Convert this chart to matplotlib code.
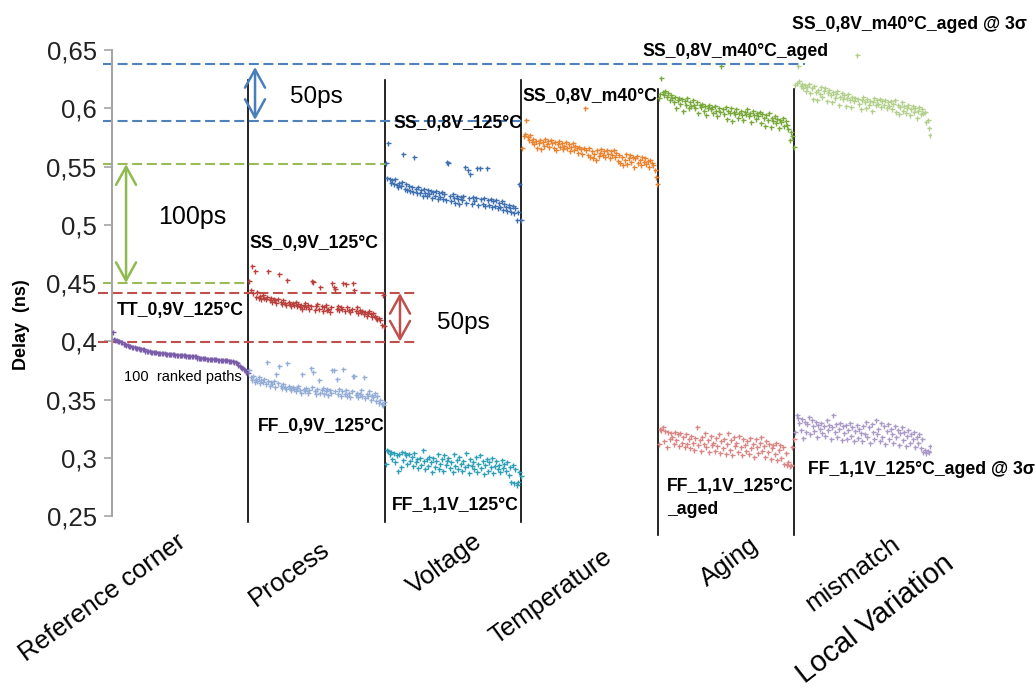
import numpy as np
import matplotlib
matplotlib.use('Agg')
import matplotlib.pyplot as plt
from matplotlib.ticker import FuncFormatter

plt.rcParams['font.family'] = ['Liberation Sans', 'DejaVu Sans']

# delay of the 100 ranked paths for each corner, in ps
ref_tt = [408, 402, 401, 401, 400, 400, 399, 399, 398, 398,
          397, 397, 396, 396, 395, 395, 395, 394, 394, 394,
          393, 393, 393, 393, 392, 392, 392, 392, 391, 391,
          391, 391, 391, 390, 390, 390, 390, 390, 390, 389,
          389, 389, 389, 389, 389, 389, 388, 388, 388, 388,
          388, 388, 388, 388, 387, 387, 387, 387, 387, 387,
          387, 387, 386, 386, 386, 386, 386, 386, 386, 385,
          385, 385, 385, 385, 385, 385, 385, 384, 384, 384,
          384, 384, 384, 384, 384, 383, 383, 383, 383, 382,
          382, 381, 380, 379, 378, 377, 376, 375, 374, 373]

proc_ss = [452, 444, 465, 441, 460, 438, 442, 437, 439, 436,
           440, 437, 436, 438, 460, 435, 437, 434, 436, 435,
           433, 436, 458, 434, 432, 435, 433, 431, 453, 434,
           432, 430, 433, 431, 434, 430, 432, 429, 431, 428,
           430, 433, 429, 431, 428, 430, 452, 451, 427, 430,
           432, 428, 447, 430, 426, 429, 431, 427, 428, 425,
           429, 450, 447, 445, 428, 430, 427, 429, 428, 450,
           426, 449, 429, 427, 425, 428, 450, 444, 426, 429,
           424, 427, 425, 426, 423, 425, 422, 424, 426, 423,
           421, 424, 422, 420, 419, 420, 418, 414, 440, 413]

proc_ff = [375, 369, 367, 370, 365, 368, 366, 369, 364, 367,
           365, 368, 363, 382, 366, 362, 365, 363, 366, 361,
           372, 364, 379, 362, 360, 363, 361, 359, 381, 362,
           360, 358, 361, 359, 357, 360, 362, 358, 356, 372,
           359, 357, 360, 356, 358, 377, 361, 374, 357, 355,
           359, 367, 356, 358, 360, 355, 357, 359, 354, 358,
           356, 375, 375, 357, 368, 355, 359, 353, 357, 376,
           355, 358, 353, 356, 352, 357, 370, 370, 354, 356,
           352, 355, 358, 353, 369, 351, 355, 353, 357, 350,
           354, 352, 356, 349, 353, 347, 350, 346, 345, 348]

volt_ss = [553, 540, 570, 539, 536, 538, 535, 539, 534, 532,
           536, 533, 537, 561, 531, 535, 530, 533, 529, 532,
           528, 558, 531, 527, 532, 527, 530, 525, 531, 527,
           525, 530, 526, 529, 523, 528, 525, 529, 522, 527,
           524, 528, 522, 526, 521, 554, 553, 525, 520, 526,
           523, 519, 525, 522, 518, 524, 521, 525, 550, 519,
           547, 523, 544, 518, 524, 520, 523, 549, 517, 549,
           522, 518, 523, 516, 549, 521, 517, 522, 515, 520,
           516, 521, 514, 519, 515, 520, 513, 518, 515, 512,
           517, 514, 511, 516, 510, 514, 504, 511, 535, 504]

volt_ff = [295, 307, 306, 303, 305, 299, 304, 296, 302, 289,
           303, 292, 305, 298, 304, 302, 295, 303, 297, 301,
           293, 304, 296, 299, 291, 300, 294, 307, 297, 290,
           299, 293, 301, 296, 288, 300, 292, 297, 303, 290,
           295, 299, 289, 302, 294, 297, 300, 291, 296, 288,
           303, 293, 298, 290, 301, 295, 289, 297, 292, 304,
           294, 287, 299, 293, 296, 290, 301, 288, 295, 302,
           291, 297, 286, 294, 299, 289, 296, 292, 300, 287,
           293, 297, 290, 294, 288, 298, 291, 295, 289, 296,
           285, 292, 279, 294, 278, 290, 277, 279, 288, 284]

temp_ss = [566, 576, 578, 590, 575, 573, 577, 571, 574, 569,
           572, 566, 570, 573, 565, 571, 568, 574, 569, 572,
           567, 573, 570, 566, 571, 564, 569, 572, 567, 570,
           565, 568, 571, 566, 569, 563, 567, 570, 564, 568,
           566, 562, 567, 565, 561, 566, 600, 564, 560, 566,
           558, 563, 557, 561, 556, 564, 559, 562, 565, 560,
           563, 558, 564, 561, 557, 563, 560, 564, 558, 562,
           555, 560, 553, 558, 551, 556, 561, 552, 557, 560,
           554, 558, 550, 557, 559, 553, 556, 551, 558, 554,
           557, 552, 555, 550, 556, 553, 551, 547, 541, 535]

age_ss = [609, 612, 626, 614, 611, 615, 610, 613, 607, 611,
          609, 605, 610, 600, 607, 609, 604, 608, 598, 606,
          603, 609, 600, 605, 602, 607, 603, 600, 605, 596,
          603, 601, 604, 598, 602, 594, 600, 603, 599, 601,
          596, 602, 598, 593, 600, 597, 636, 599, 595, 601,
          591, 598, 596, 600, 589, 597, 595, 599, 592, 596,
          598, 594, 590, 597, 595, 599, 593, 596, 588, 598,
          594, 591, 596, 593, 597, 587, 595, 592, 585, 594,
          590, 596, 584, 592, 589, 593, 587, 591, 583, 590,
          588, 592, 585, 589, 586, 582, 573, 580, 576, 567]

age_ff = [312, 325, 324, 326, 314, 323, 309, 322, 316, 321,
          318, 312, 322, 315, 320, 310, 321, 313, 318, 309,
          320, 312, 316, 308, 319, 313, 307, 317, 326, 311,
          315, 306, 318, 312, 321, 309, 315, 305, 319, 311,
          313, 306, 317, 310, 320, 304, 314, 308, 316, 303,
          312, 321, 307, 315, 302, 318, 310, 313, 305, 319,
          309, 302, 316, 311, 306, 314, 303, 317, 308, 312,
          301, 316, 309, 304, 313, 318, 306, 310, 301, 314,
          305, 312, 299, 308, 311, 303, 313, 298, 307, 311,
          300, 309, 295, 304, 294, 296, 293, 294, 309, 316]

mm_ss = [620, 622, 636, 623, 619, 621, 617, 620, 615, 618,
         621, 613, 617, 608, 619, 614, 607, 616, 612, 618,
         610, 615, 617, 606, 613, 616, 611, 605, 614, 609,
         612, 615, 603, 610, 613, 608, 611, 602, 609, 612,
         607, 601, 610, 606, 609, 646, 608, 604, 599, 607,
         610, 605, 600, 608, 603, 606, 598, 605, 609, 603,
         607, 604, 608, 601, 606, 603, 607, 600, 605, 602,
         606, 599, 604, 607, 597, 603, 595, 601, 605, 598,
         602, 596, 600, 603, 594, 599, 602, 597, 600, 592,
         598, 601, 595, 599, 596, 597, 588, 590, 583, 577]

mm_ff = [322, 337, 334, 330, 324, 333, 317, 331, 322, 329,
         335, 320, 332, 327, 323, 331, 318, 328, 325, 330,
         321, 327, 319, 332, 324, 328, 316, 326, 337, 322,
         329, 318, 325, 330, 315, 327, 321, 328, 316, 324,
         330, 319, 326, 314, 323, 328, 317, 325, 321, 314,
         327, 320, 331, 318, 326, 313, 329, 322, 316, 332,
         320, 325, 314, 330, 318, 327, 312, 323, 329, 316,
         325, 320, 313, 327, 318, 324, 311, 321, 326, 315,
         322, 310, 319, 324, 313, 320, 316, 322, 309, 318,
         313, 320, 308, 316, 305, 307, 304, 306, 305, 310]

categories = ['Reference corner', 'Process', 'Voltage', 'Temperature', 'Aging', 'mismatch']

# (group index, data, colour)
series = [
    (0, ref_tt, '#7a5ca8'),
    (1, proc_ss, '#b8403d'),
    (1, proc_ff, '#93add6'),
    (2, volt_ss, '#3e6fb0'),
    (2, volt_ff, '#2f9fb8'),
    (3, temp_ss, '#e9832f'),
    (4, age_ss, '#78a83a'),
    (4, age_ff, '#d98785'),
    (5, mm_ss, '#b3cf8c'),
    (5, mm_ff, '#ab9ac8'),
]

fig = plt.figure(figsize=(10.36, 6.88), dpi=100)
ax = fig.add_axes([0.1081, 0.25, 0.7905, 0.6773])

for g, vals, col in series:
    x = g * 100 + np.arange(len(vals)) + 0.5
    ax.plot(x, np.array(vals) / 1000.0, '+', color=col, ms=3.6, mew=1.0, zorder=3)

ax.set_xlim(0, 600)
ax.set_ylim(0.25, 0.65)

# only a grey y axis, no x axis
for s in ['top', 'right', 'bottom']:
    ax.spines[s].set_visible(False)
ax.spines['left'].set_color('#a6a6a6')
ax.spines['left'].set_linewidth(1.5)
ax.set_xticks([])
ax.set_yticks(np.arange(0.25, 0.651, 0.05))
ax.yaxis.set_major_formatter(FuncFormatter(lambda v, p: ('%g' % round(v, 2)).replace('.', ',')))
ax.tick_params(axis='y', length=6, width=1.2, color='#a6a6a6', labelsize=18.5, labelcolor='#222222', pad=5)

# separators between the groups
for g in range(1, 6):
    top, bot = (0.6242, 0.2449) if g < 4 else (0.6165, 0.2337)
    ax.plot([g * 100, g * 100], [bot, top], color='black', lw=1.2, clip_on=False, zorder=2)

# dashed reference levels
dash = (4.8, 2.2)
ax.plot([-6.6, 507.7], [0.6384, 0.6384], '--', color='#4f81bd', lw=1.5, dashes=dash, clip_on=False)
ax.plot([-6.6, 301], [0.589, 0.589], '--', color='#4f81bd', lw=1.5, dashes=dash, clip_on=False)
ax.plot([-6.6, 200.7], [0.552, 0.552], '--', color='#9bbb59', lw=1.5, dashes=dash, clip_on=False)
ax.plot([-6.6, 101], [0.45, 0.45], '--', color='#9bbb59', lw=1.5, dashes=dash, clip_on=False)
ax.plot([-10.3, 222], [0.4414, 0.4414], '--', color='#c0504d', lw=1.5, dashes=dash, clip_on=False)
ax.plot([-10.3, 222], [0.3997, 0.3997], '--', color='#c0504d', lw=1.5, dashes=dash, clip_on=False)

# double arrows
def darrow(x, y0, y1, col):
    ax.annotate('', xy=(x, y1), xytext=(x, y0),
                arrowprops=dict(arrowstyle='<->,head_length=1.3,head_width=0.72',
                                color=col, lw=1.8, shrinkA=0, shrinkB=0, mutation_scale=10))

darrow(104.8, 0.59, 0.6354, '#4a7ebb')
darrow(10.3, 0.45, 0.552, '#8dbb4e')
darrow(211, 0.3997, 0.4414, '#c0504d')

ax.text(130.4, 0.6097, '50ps', fontsize=17.5, va='center', ha='left')
ax.text(33.7, 0.5067, '100ps', fontsize=18, va='center', ha='left')
ax.text(238, 0.4157, '50ps', fontsize=17.5, va='center', ha='left')

# corner labels
bold = dict(fontsize=12.7, fontweight='bold', va='center', ha='left', color='black')
ax.text(3.7, 0.4268, 'TT_0,9V_125°C', **bold)
ax.text(8.8, 0.3693, '100  ranked paths', fontsize=10.5, va='center', ha='left')
ax.text(101, 0.4843, 'SS_0,9V_125°C', **bold)
ax.text(107, 0.3264, 'FF_0,9V_125°C', **bold)
ax.text(205.9, 0.5865, 'SS_0,8V_125°C', **bold)
ax.text(205.1, 0.2594, 'FF_1,1V_125°C', **bold)
ax.text(301, 0.6097, 'SS_0,8V_m40°C', **bold)
ax.text(388.3, 0.6483, 'SS_0,8V_m40°C_aged', **bold)
ax.text(406.6, 0.2749, 'FF_1,1V_125°C', **bold)
ax.text(406.6, 0.2552, '_aged', **bold)
ax.text(498, 0.6723, 'SS_0,8V_m40°C_aged @ 3σ', **bold)
ax.text(510, 0.2895, 'FF_1,1V_125°C_aged @ 3σ', **bold)

fig.text(22 / 1036, 1 - 325 / 688, 'Delay  (ns)', rotation=90, fontsize=13,
         fontweight='bold', ha='center', va='center')

# rotated category names under the groups (pixel anchors at baseline start)
cat_pos = [(26, 662), (256, 607), (414, 595), (496, 645), (707, 587), (812, 612)]
for name, (px, py) in zip(categories, cat_pos):
    fig.text(px / 1036, 1 - py / 688, name, fontsize=18.5, rotation=36,
             rotation_mode='anchor', ha='left', va='baseline')
fig.text(805 / 1036, 1 - 684 / 688, 'Local Variation', fontsize=21, rotation=38,
         rotation_mode='anchor', ha='left', va='baseline')

fig.savefig('out.png', dpi=100)
